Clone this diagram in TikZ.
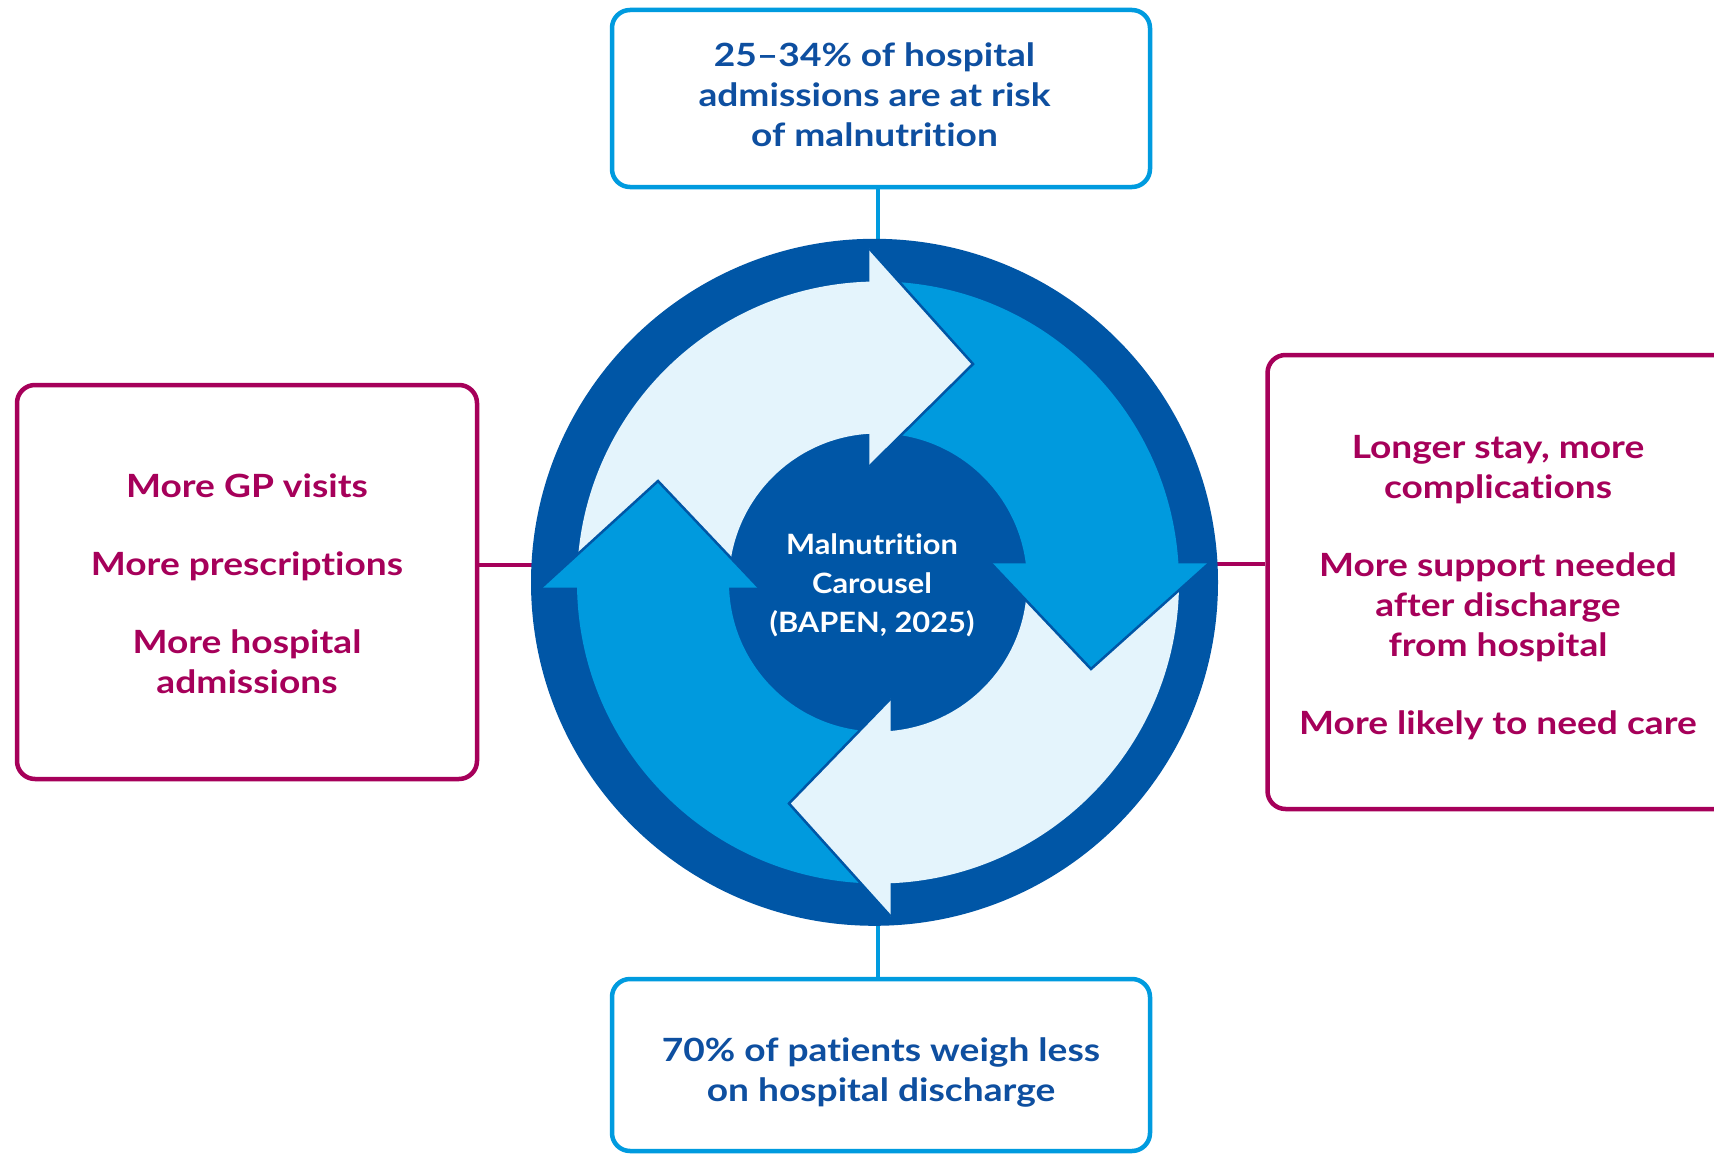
\documentclass[tikz,border=0pt]{standalone}
\usepackage{fontspec}
\setmainfont{Lato}[Ligatures=NoCommon, FakeStretch=1.16]
\newfontfamily\ctrfont{Lato}[Ligatures=NoCommon, FakeStretch=1.1]
\definecolor{navy}{HTML}{0056A6}
\definecolor{midblue}{HTML}{009ADE}
\definecolor{paleblue}{HTML}{E4F4FC}
\definecolor{boxblue}{HTML}{009BDF}
\definecolor{txtblue}{HTML}{0E4FA0}
\definecolor{berry}{HTML}{A6005A}
\pgfdeclarelayer{background}
\pgfsetlayers{background,main}
\tikzset{
  boxbase/.style={line width=4.5pt, rounded corners=18pt, fill=white, inner sep=0pt},
  bluebox/.style={boxbase, draw=boxblue},
  berrybox/.style={boxbase, draw=berry},
  txtbase/.style={align=center, inner sep=0pt, font=\bfseries\fontsize{32}{40}\selectfont},
  bluetext/.style={txtbase, text=txtblue},
  berrytext/.style={txtbase, text=berry},
  blueline/.style={draw=boxblue, line width=4.5pt},
  berryline/.style={draw=berry, line width=4.5pt},
  headedge/.style={draw=navy, line width=2.5pt, line join=miter},
  annulus/.style={even odd rule},
}
\begin{document}
\begin{tikzpicture}[x=1pt,y=-1pt]
\useasboundingbox (0,0) rectangle (1714,1156);
\clip (0,0) rectangle (1714,1156);

% boxes
\node[bluebox, minimum width=538pt, minimum height=177pt] (topbox) at (881,98.5) {};
\node[bluebox, minimum width=538pt, minimum height=172pt] (botbox) at (881,1065) {};
\node[berrybox, minimum width=460pt, minimum height=394pt] (leftbox) at (247,582) {};
\node[berrybox, minimum width=472pt, minimum height=454pt] (rightbox) at (1503.5,582) {};

% box texts
\node[bluetext] (toptxt) at ([xshift=-6.5pt,yshift=3.5pt]topbox.center)
  {25–34\% of hospital\\admissions are at risk\\of malnutrition};
\node[bluetext] (bottxt) at ([yshift=-7.5pt]botbox.center)
  {70\% of patients weigh less\\on hospital discharge};
\node[berrytext] (lefttxt) at ([yshift=-2pt]leftbox.center)
  {More GP visits\\[38pt]More prescriptions\\[38pt]More hospital\\admissions};
\node[berrytext] (righttxt) at ([xshift=-5.5pt,yshift=-5.5pt]rightbox.center)
  {Longer stay, more\\complications\\[38pt]More support needed\\after discharge\\from hospital\\[38pt]More likely to need care};

% ring
\node[circle, fill=navy, minimum size=687pt, inner sep=0pt] (ring) at (874.5,582.3) {};

% connectors (behind)
\coordinate (tj) at ([xshift=-3pt]topbox.south);
\coordinate (bj) at ([xshift=-3pt]botbox.north);
\coordinate (lj) at ([yshift=17pt]leftbox.east);
\coordinate (rj) at ([yshift=18pt]rightbox.west);
\begin{pgfonlayer}{background}
  \fill[white] (0,0) rectangle (1714,1156);
  \draw[blueline] (tj) -- (tj |- ring.center);
  \draw[blueline] (bj) -- (bj |- ring.center);
  \draw[berryline] (lj) -- (lj -| ring.center);
  \draw[berryline] (rj) -- (rj -| ring.center);
\end{pgfonlayer}

% arrow bodies
\begin{scope}
  \clip (500,200) rectangle (871.3,585.7);
  \fill[paleblue, annulus] (878,582.5) circle[radius=301pt] (878,582.5) circle[radius=149pt];
\end{scope}
\begin{scope}
  \clip (871.3,200) rectangle (1250,565.3);
  \fill[midblue, annulus] (878,582.5) circle[radius=301pt] (878,582.5) circle[radius=149pt];
\end{scope}
\begin{scope}
  \clip (888.7,565.3) rectangle (1250,950);
  \fill[paleblue, annulus] (878,582.5) circle[radius=301pt] (878,582.5) circle[radius=149pt];
\end{scope}
\begin{scope}
  \clip (500,585.7) rectangle (888.7,950);
  \fill[midblue, annulus] (878,582.5) circle[radius=301pt] (878,582.5) circle[radius=149pt];
\end{scope}

% arrow heads
\fill[paleblue] (869.3,248.5) -- (973,364) -- (869.3,466.5) -- cycle;
\draw[headedge] (869.3,248.5) -- (973,364) -- (869.3,466.5);
\fill[midblue] (1209,563.3) -- (1091,669) -- (991,563.3) -- cycle;
\draw[headedge] (1209,563.3) -- (1091,669) -- (991,563.3);
\fill[paleblue] (890.7,916.5) -- (789,803.5) -- (890.7,698.5) -- cycle;
\draw[headedge] (890.7,916.5) -- (789,803.5) -- (890.7,698.5);
\fill[midblue] (541,587.7) -- (658,481) -- (759,587.7) -- cycle;
\draw[headedge] (541,587.7) -- (658,481) -- (759,587.7);

% centre text
\node[text=white, align=center, font=\ctrfont\bfseries\fontsize{28}{39}\selectfont] (ctr) at (872,585)
  {Malnutrition\\Carousel\\(BAPEN, 2025)};
\end{tikzpicture}
\end{document}
